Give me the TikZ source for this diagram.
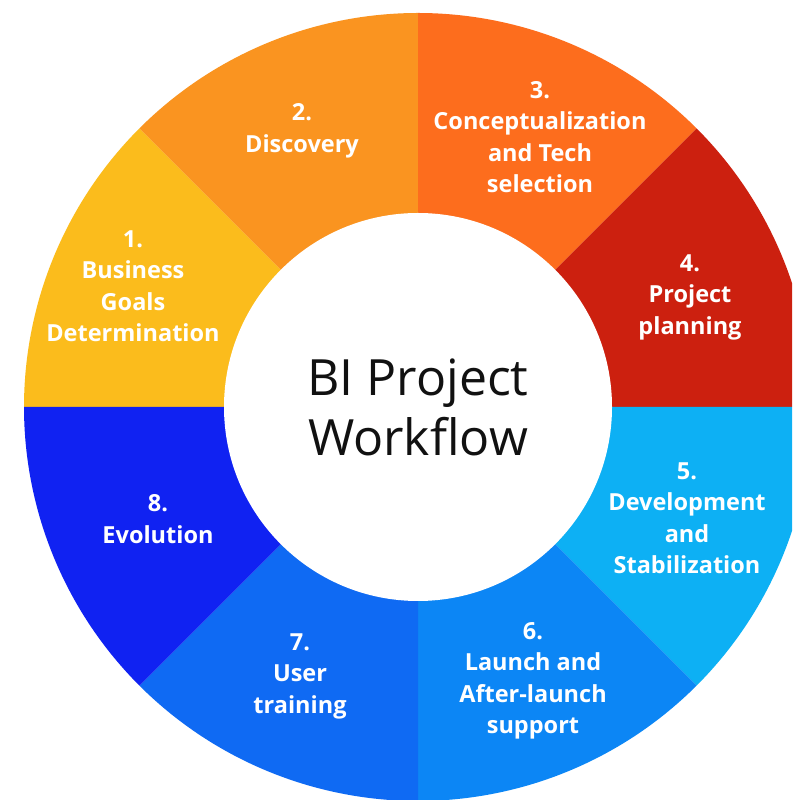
\documentclass[tikz,border=0pt]{standalone}
\usepackage{fontspec}
\setmainfont{Open Sans}
\definecolor{stepone}{RGB}{251,188,28}
\definecolor{steptwo}{RGB}{250,148,32}
\definecolor{stepthree}{RGB}{253,109,29}
\definecolor{stepfour}{RGB}{204,32,15}
\definecolor{stepfive}{RGB}{13,176,244}
\definecolor{stepsix}{RGB}{12,134,245}
\definecolor{stepseven}{RGB}{15,106,243}
\definecolor{stepeight}{RGB}{16,34,242}
\definecolor{hubtext}{RGB}{17,17,17}

\tikzset{
  steplabel/.style={text=white,align=center,
    font=\fontsize{23.5}{31.5}\selectfont\bfseries},
  hub/.style={circle,fill=white,minimum size=388pt,inner sep=0pt,
    text=hubtext,align=center,font=\fontsize{50}{60}\selectfont}
}

\begin{document}
\begin{tikzpicture}[x=1pt,y=1pt]

    \useasboundingbox (0,0) rectangle (792,800);

    % white page
    \fill[white] (0,0) rectangle (792,800);

    \coordinate (c) at (418,393);

    % eight wedges, clipped by the page on the right and bottom
    \begin{scope}
      \clip (0,0) rectangle (792,800);
      \foreach \a/\col in {135/stepone,90/steptwo,45/stepthree,0/stepfour,
                           -45/stepfive,-90/stepsix,-135/stepseven,180/stepeight}{
        \fill[\col] (c) -- ++(\a:394) arc[start angle=\a,end angle=\a+45,radius=394] -- cycle;
      }
    \end{scope}

    % hole with the title
    \node[hub] (hub) at (c) {BI Project\\Workflow};

    % step labels
    \node[steplabel] (s1) at (133,514) {1.\\Business\\Goals\\Determination};
    \node[steplabel] (s2) at (302,669) {2.\\Discovery};
    \node[steplabel] (s3) at (540,663) {3.\\Conceptualization\\and Tech\\selection};
    \node[steplabel] (s4) at (690,503) {4.\\Project\\planning};
    \node[steplabel] (s5) at (687,282) {5.\\Development\\and\\Stabilization};
    \node[steplabel] (s6) at (533,119) {6.\\Launch and\\After-launch\\support};
    \node[steplabel] (s7) at (300,124) {7.\\User\\training};
    \node[steplabel] (s8) at (158,281) {8.\\Evolution};

  \end{tikzpicture}
\end{document}
